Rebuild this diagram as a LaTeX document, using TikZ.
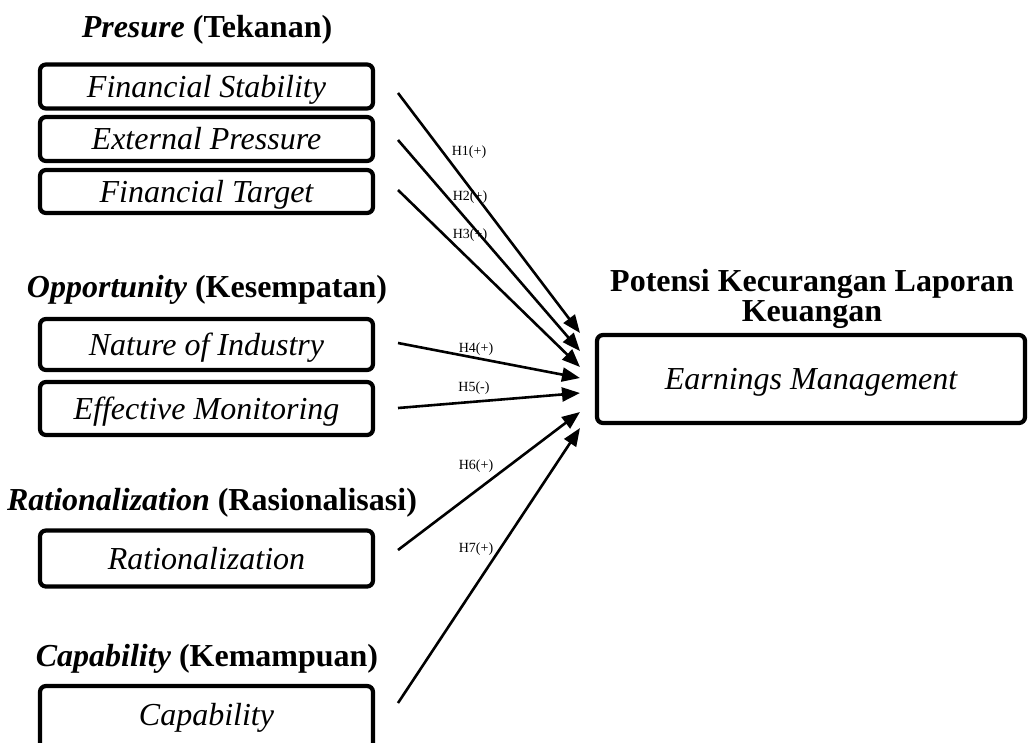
\documentclass[tikz,border=0pt]{standalone}
\usepackage{fontspec}
\setmainfont{Liberation Serif}
\usetikzlibrary{arrows.meta}
\begin{document}
\begin{tikzpicture}[x=1pt,y=-1pt,
 box/.style={draw,line width=4.2pt,rounded corners=6pt,minimum width=333pt,inner sep=0pt,text height=23pt,text depth=2pt,font=\fontsize{32}{32}\selectfont\itshape},
 title/.style={font=\fontsize{32}{30}\selectfont\bfseries,align=center,inner sep=0pt},
 hyp/.style={font=\fontsize{14}{14}\selectfont,inner sep=0pt},
 arr/.style={line width=2.6pt,-{Triangle[length=18pt,width=14pt]}}]
\clip (0,0) rectangle (1030,742);
% group titles
\node[title] (tP) at (207,30) {\textit{Presure} (Tekanan)};
\node[title] (tO) at (207,290) {\textit{Opportunity} (Kesempatan)};
\node[title] (tR) at (212,503) {\textit{Rationalization} (Rasionalisasi)};
\node[title] (tC) at (207,659) {\textit{Capability} (Kemampuan)};
\node[title] (tY) at (812,299) {Potensi Kecurangan Laporan\\Keuangan};
% boxes
\node[box,minimum height=44pt] (fs) at (206.5,86.5) {Financial Stability};
\node[box,minimum height=44pt] (ep) at (206.5,139) {External Pressure};
\node[box,minimum height=43pt] (ft) at (206.5,191.5) {Financial Target};
\node[box,minimum height=51pt] (ni) at (206.5,344.5) {Nature of Industry};
\node[box,minimum height=53pt] (em) at (206.5,408.5) {Effective Monitoring};
\node[box,minimum height=56pt] (ra) at (206.5,558.5) {Rationalization};
\node[box,minimum height=68pt] (ca) at (206.5,720) {\raisebox{5pt}{Capability}};
\node[box,minimum width=428pt,minimum height=88pt] (ym) at (811,379) {Earnings Management};
% arrow ends
\coordinate (s1) at (398,93);  \coordinate (e1) at (580,333);
\coordinate (s2) at (398,140); \coordinate (e2) at (580,351);
\coordinate (s3) at (398,190); \coordinate (e3) at (580,367);
\coordinate (s4) at (398,343); \coordinate (e4) at (580,378);
\coordinate (s5) at (398,408); \coordinate (e5) at (580,393);
\coordinate (s6) at (398,550); \coordinate (e6) at (580,412);
\coordinate (s7) at (398,703); \coordinate (e7) at (580,428);
\foreach \i in {1,...,7} \draw[arr] (s\i) -- (e\i);
% labels
\node[hyp] (h1) at (469,152) {H1(+)};
\node[hyp] (h2) at (470,197) {H2(+)};
\node[hyp] (h3) at (470,235) {H3(+)};
\node[hyp] (h4) at (476,349) {H4(+)};
\node[hyp] (h5) at (474,388) {H5(-)};
\node[hyp] (h6) at (476,466) {H6(+)};
\node[hyp] (h7) at (476,549) {H7(+)};
\end{tikzpicture}
\end{document}
